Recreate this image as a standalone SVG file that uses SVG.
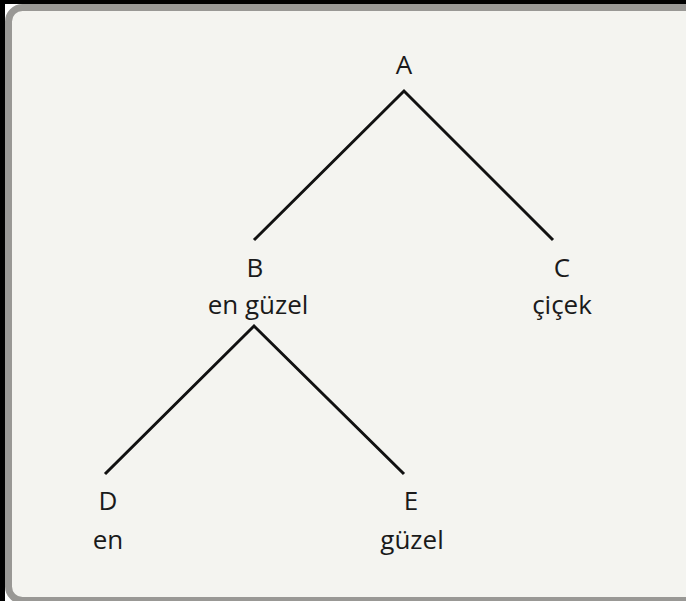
<svg xmlns="http://www.w3.org/2000/svg" width="686" height="601" viewBox="0 0 686 601">
  <style>
    .lbl { font-family: "Open Sans", "Liberation Sans", sans-serif; font-size: 26px; fill: #1a1a1a; text-anchor: middle; }
    .edge { stroke: #111; stroke-width: 3; fill: none; stroke-linecap: butt; }
  </style>
  <!-- page frame -->
  <rect x="0" y="0" width="686" height="601" fill="#000"/>
  <rect x="5" y="4" width="681" height="597" fill="#fff"/>
  <rect x="8.5" y="7.5" width="690" height="593" rx="14" fill="#f4f4f0" stroke="#999895" stroke-width="7"/>

  <g id="connectors">
    <polyline class="edge" points="254,240 404,91 553,240"/>
    <polyline class="edge" points="105,474 254,326 404,474"/>
  </g>

  <g id="node-A">
    <text class="lbl" x="404" y="74">A</text>
  </g>
  <g id="node-B">
    <text class="lbl" x="255" y="277">B</text>
    <text class="lbl" x="258" y="314">en güzel</text>
  </g>
  <g id="node-C">
    <text class="lbl" x="562" y="277">C</text>
    <text class="lbl" x="562" y="314">çiçek</text>
  </g>
  <g id="node-D">
    <text class="lbl" x="108" y="510">D</text>
    <text class="lbl" x="108" y="549">en</text>
  </g>
  <g id="node-E">
    <text class="lbl" x="411" y="510">E</text>
    <text class="lbl" x="412" y="549">güzel</text>
  </g>
</svg>
